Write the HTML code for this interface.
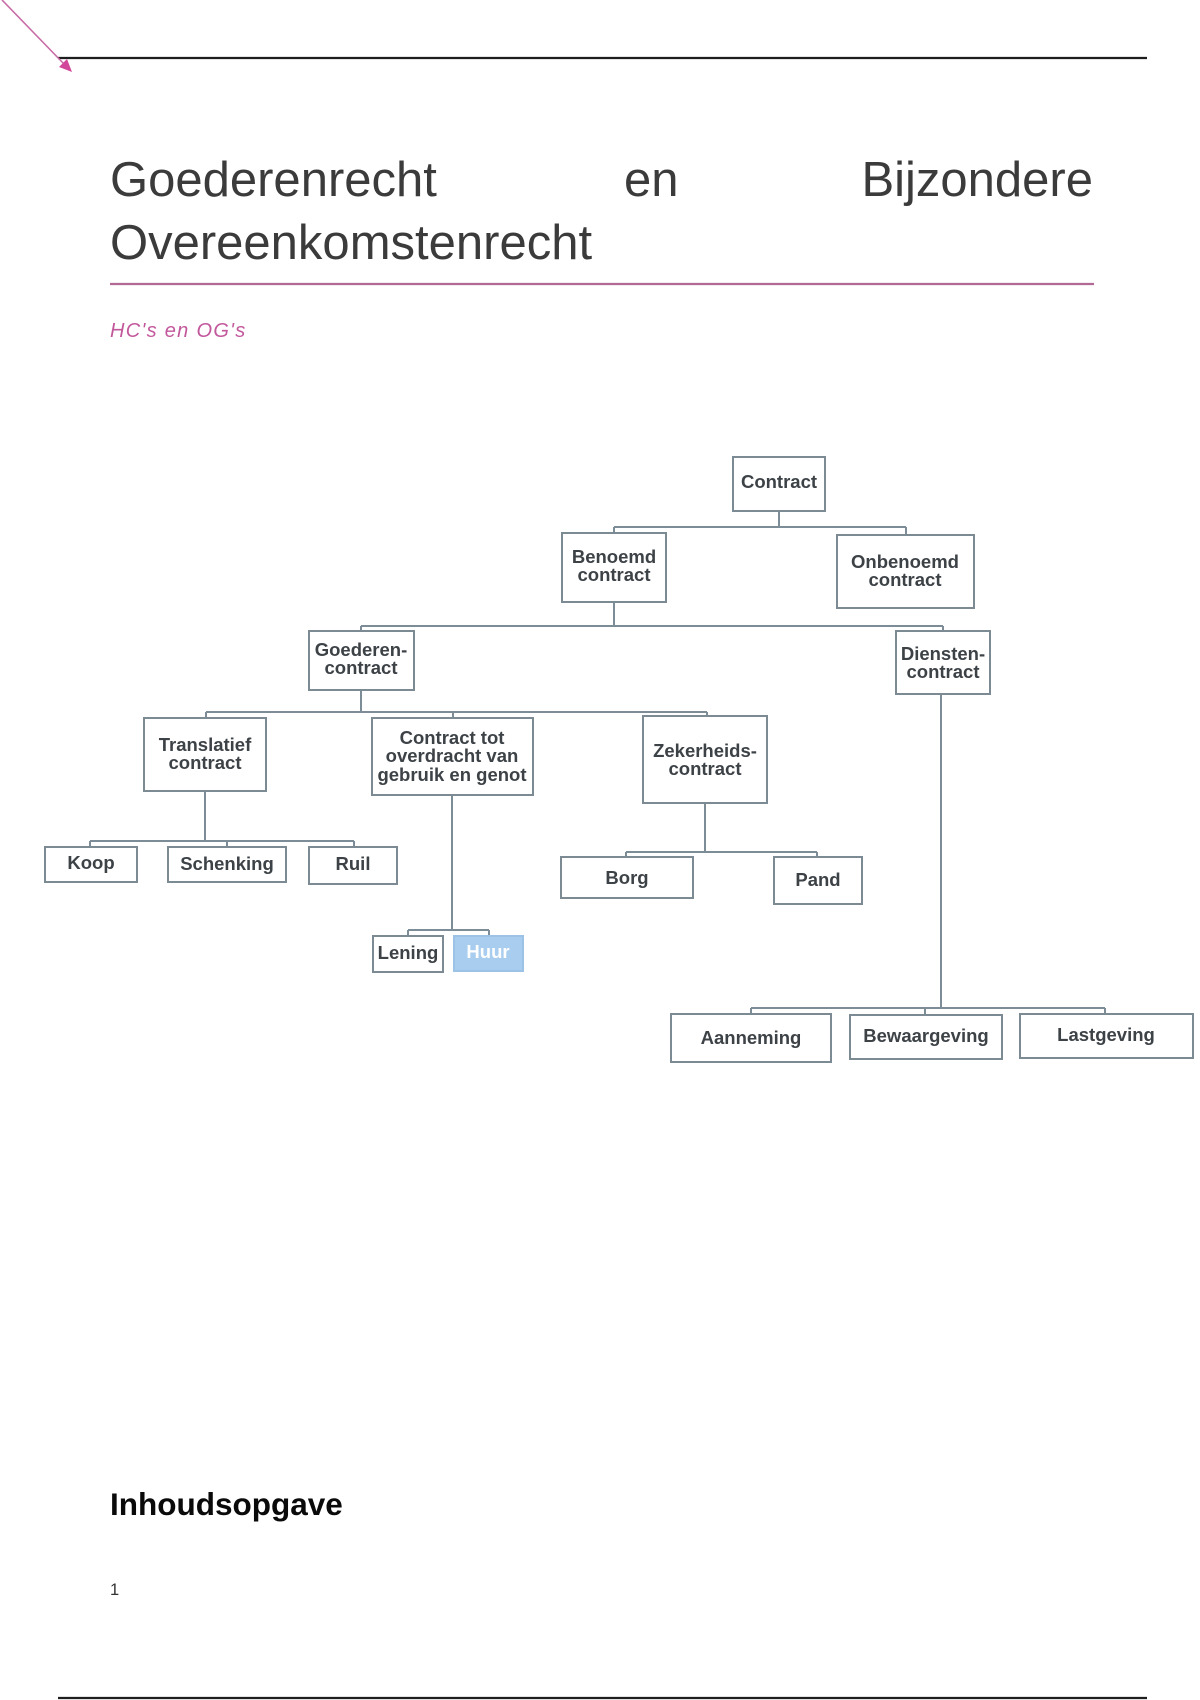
<!DOCTYPE html>
<html>
<head>
<meta charset="utf-8">
<style>
html,body{margin:0;padding:0;background:#fff;}
body{width:1200px;height:1700px;overflow:hidden;}
svg{display:block;}
.t{font-family:"Liberation Sans",Arial,sans-serif;}
.n{font-family:"Liberation Sans",Arial,sans-serif;font-weight:bold;font-size:18.5px;fill:#3d4247;text-anchor:middle;}
.b{fill:#fff;stroke:#7c8a94;stroke-width:2;}
.c{stroke:#7d8d98;stroke-width:2;fill:none;}
</style>
</head>
<body>
<svg width="1200" height="1700" viewBox="0 0 1200 1700" xmlns="http://www.w3.org/2000/svg">
  <!-- top rule -->
  <line x1="58" y1="58" x2="1147" y2="58" stroke="#1e1e1e" stroke-width="2.2"/>
  <!-- pink arrow -->
  <line x1="2" y1="0" x2="64" y2="64" stroke="#c86aa5" stroke-width="1.6"/>
  <polygon points="72,72 59,67 67,59" fill="#d2479a"/>

  <!-- title -->
  <g class="t" font-size="49" fill="#3b3b3b">
    <text x="110" y="196">Goederenrecht</text>
    <text x="624" y="196">en</text>
    <text x="1093" y="196" text-anchor="end">Bijzondere</text>
    <text x="110" y="259">Overeenkomstenrecht</text>
  </g>
  <line x1="110" y1="284" x2="1094" y2="284" stroke="#b06a93" stroke-width="2.2"/>
  <text class="t" x="110" y="337" font-size="20" font-style="italic" letter-spacing="1.3" fill="#c2589c">HC's en OG's</text>

  <!-- connectors -->
  <g class="c">
    <path d="M779 511 V527 M614 527 H906 M614 527 V533 M906 527 V535"/>
    <path d="M614 602 V626 M361 626 H943 M361 626 V631 M943 626 V631"/>
    <path d="M361 690 V712 M206 712 H707 M206 712 V718 M453 712 V718 M707 712 V716"/>
    <path d="M205 791 V841 M90 841 H354 M90 841 V847 M227 841 V847 M354 841 V847"/>
    <path d="M452 795 V930 M408 930 H489 M408 930 V936 M489 930 V936"/>
    <path d="M705 803 V852 M626 852 H817 M626 852 V857 M817 852 V857"/>
    <path d="M941 694 V1008 M751 1008 H1105 M751 1008 V1014 M925 1008 V1015 M1105 1008 V1014"/>
  </g>

  <!-- boxes -->
  <rect class="b" x="733" y="457" width="92" height="54"/>
  <rect class="b" x="562" y="533" width="104" height="69"/>
  <rect class="b" x="837" y="535" width="137" height="73"/>
  <rect class="b" x="309" y="631" width="105" height="59"/>
  <rect class="b" x="896" y="631" width="94" height="63"/>
  <rect class="b" x="144" y="718" width="122" height="73"/>
  <rect class="b" x="372" y="718" width="161" height="77"/>
  <rect class="b" x="643" y="716" width="124" height="87"/>
  <rect class="b" x="45" y="847" width="92" height="35"/>
  <rect class="b" x="168" y="847" width="118" height="35"/>
  <rect class="b" x="309" y="847" width="88" height="37"/>
  <rect class="b" x="373" y="936" width="70" height="36"/>
  <rect x="454" y="936" width="69" height="35" fill="#a9cdee" stroke="#9cc3e6" stroke-width="2"/>
  <rect class="b" x="561" y="857" width="132" height="41"/>
  <rect class="b" x="774" y="857" width="88" height="47"/>
  <rect class="b" x="671" y="1014" width="160" height="48"/>
  <rect class="b" x="850" y="1015" width="152" height="44"/>
  <rect class="b" x="1020" y="1014" width="173" height="44"/>

  <!-- labels -->
  <text class="n" x="779" y="488">Contract</text>
  <text class="n" x="614" y="563">Benoemd</text>
  <text class="n" x="614" y="581">contract</text>
  <text class="n" x="905" y="568">Onbenoemd</text>
  <text class="n" x="905" y="586">contract</text>
  <text class="n" x="361" y="656">Goederen-</text>
  <text class="n" x="361" y="674">contract</text>
  <text class="n" x="943" y="660">Diensten-</text>
  <text class="n" x="943" y="678">contract</text>
  <text class="n" x="205" y="751">Translatief</text>
  <text class="n" x="205" y="769">contract</text>
  <text class="n" x="452" y="744">Contract tot</text>
  <text class="n" x="452" y="762">overdracht van</text>
  <text class="n" x="452" y="781">gebruik en genot</text>
  <text class="n" x="705" y="757">Zekerheids-</text>
  <text class="n" x="705" y="775">contract</text>
  <text class="n" x="91" y="869">Koop</text>
  <text class="n" x="227" y="870">Schenking</text>
  <text class="n" x="353" y="870">Ruil</text>
  <text class="n" x="408" y="959">Lening</text>
  <text class="n" x="488" y="958" style="fill:#ffffff">Huur</text>
  <text class="n" x="627" y="884">Borg</text>
  <text class="n" x="818" y="886">Pand</text>
  <text class="n" x="751" y="1044">Aanneming</text>
  <text class="n" x="926" y="1042">Bewaargeving</text>
  <text class="n" x="1106" y="1041">Lastgeving</text>

  <!-- bottom -->
  <text class="t" x="110" y="1515" font-size="31.5" font-weight="bold" fill="#0a0a0a">Inhoudsopgave</text>
  <text class="t" x="110" y="1595" font-size="16.5" fill="#333">1</text>
  <line x1="58" y1="1698" x2="1147" y2="1698" stroke="#1e1e1e" stroke-width="2.2"/>
</svg>
</body>
</html>
